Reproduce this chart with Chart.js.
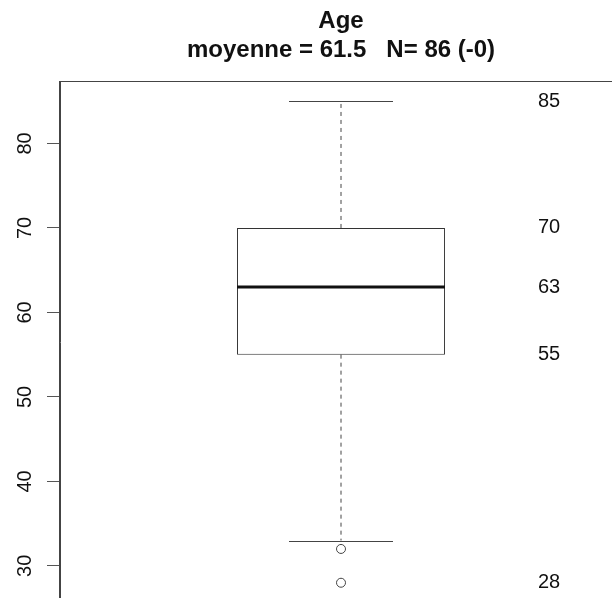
<!DOCTYPE html>
<html>
<head>
<meta charset="utf-8">
<script src="https://cdn.jsdelivr.net/npm/chart.js@4"></script>
<style>
    body { margin: 0; background: #fff; }
    #wrap { width: 612px; height: 598px; overflow: hidden; }
</style>
</head>
<body>
<div id="wrap"><canvas id="boxChart" width="700" height="620"></canvas></div>
<script>
// values
const categories = ['Age'];
const quartiles = [55, 70];
const median = [63];
const whiskers = [33, 85];
const outliers = [32, 28];
const sideLabels = [85, 70, 63, 55, 28];
const yTicks = [30, 40, 50, 60, 70, 80];
const yRange = [25.72, 87.28];
const titleLines = ['Age', 'moyenne = 61.5   N= 86 (-0)'];

const FONT = '"Liberation Sans", Arial, sans-serif';

// whiskers, median, frame, labels and title drawn on top of the scales
const boxExtras = {
    id: 'boxExtras',
    beforeDatasetsDraw(chart) {
        const ctx = chart.ctx;
        const y = chart.scales.y;
        const bar = chart.getDatasetMeta(0).data[0];
        const cx = bar.x;
        const half = bar.width / 4;
        ctx.save();
        ctx.strokeStyle = '#444';
        ctx.lineWidth = 1;
        // dashed whiskers
        ctx.setLineDash([4, 4]);
        ctx.beginPath();
        ctx.moveTo(cx, y.getPixelForValue(quartiles[1]));
        ctx.lineTo(cx, y.getPixelForValue(whiskers[1]));
        ctx.moveTo(cx, y.getPixelForValue(quartiles[0]));
        ctx.lineTo(cx, y.getPixelForValue(whiskers[0]));
        ctx.stroke();
        // caps
        ctx.setLineDash([]);
        ctx.beginPath();
        whiskers.forEach(w => {
            const py = Math.round(y.getPixelForValue(w)) + 0.5;
            ctx.moveTo(cx - half, py);
            ctx.lineTo(cx + half, py);
        });
        ctx.stroke();
        ctx.restore();
    },
    afterDatasetsDraw(chart) {
        const ctx = chart.ctx;
        const y = chart.scales.y;
        const area = chart.chartArea;
        const bar = chart.getDatasetMeta(0).data[0];
        ctx.save();
        // median
        ctx.strokeStyle = '#111';
        ctx.lineWidth = 3;
        ctx.beginPath();
        const my = y.getPixelForValue(median[0]);
        ctx.moveTo(bar.x - bar.width / 2, my);
        ctx.lineTo(bar.x + bar.width / 2, my);
        ctx.stroke();
        // frame
        ctx.strokeStyle = '#444';
        ctx.lineWidth = 1;
        ctx.strokeRect(Math.round(area.left) - 0.5, Math.round(area.top) - 0.5,
            area.right - area.left, area.bottom - area.top);
        // side labels
        ctx.fillStyle = '#111';
        ctx.font = '20px ' + FONT;
        ctx.textAlign = 'left';
        ctx.textBaseline = 'middle';
        sideLabels.forEach(v => ctx.fillText(String(v), 538, y.getPixelForValue(v)));
        // rotated y tick labels
        ctx.textAlign = 'center';
        ctx.textBaseline = 'alphabetic';
        y.ticks.forEach(t => {
            ctx.save();
            ctx.translate(31, y.getPixelForValue(t.value));
            ctx.rotate(-Math.PI / 2);
            ctx.fillText(String(t.value), 0, 0);
            ctx.restore();
        });
        // title
        ctx.font = 'bold 24px ' + FONT;
        const tx = (area.left + area.right) / 2;
        ctx.fillText(titleLines[0], tx, 28);
        ctx.fillText(titleLines[1], tx, 57);
        ctx.restore();
    }
};

const ctx = document.getElementById('boxChart').getContext('2d');

new Chart(ctx, {
    type: 'bar',
    data: {
        labels: categories,
        datasets: [{
            type: 'bar',
            data: [quartiles],
            backgroundColor: '#ffffff',
            borderColor: '#333',
            borderWidth: 1,
            borderSkipped: false,
            categoryPercentage: 0.37,
            barPercentage: 1
        }, {
            type: 'line',
            showLine: false,
            data: outliers.map(v => ({ x: categories[0], y: v })),
            pointStyle: 'circle',
            pointRadius: 4.5,
            pointBorderWidth: 1,
            pointBorderColor: '#444',
            pointBackgroundColor: 'rgba(0,0,0,0)'
        }]
    },
    options: {
        responsive: false,
        animation: false,
        layout: { padding: { top: 82, right: 78, bottom: 18, left: 0 } },
        plugins: {
            legend: { display: false },
            tooltip: { enabled: false }
        },
        scales: {
            x: { display: false },
            y: {
                min: yRange[0],
                max: yRange[1],
                afterBuildTicks: s => { s.ticks = yTicks.map(v => ({ value: v })); },
                afterFit: s => { s.width = 60; },
                ticks: { display: false },
                grid: { drawOnChartArea: false, drawTicks: true, tickLength: 13, color: '#555' },
                border: { display: true, color: '#444' }
            }
        }
    },
    plugins: [boxExtras]
});
</script>
</body>
</html>
